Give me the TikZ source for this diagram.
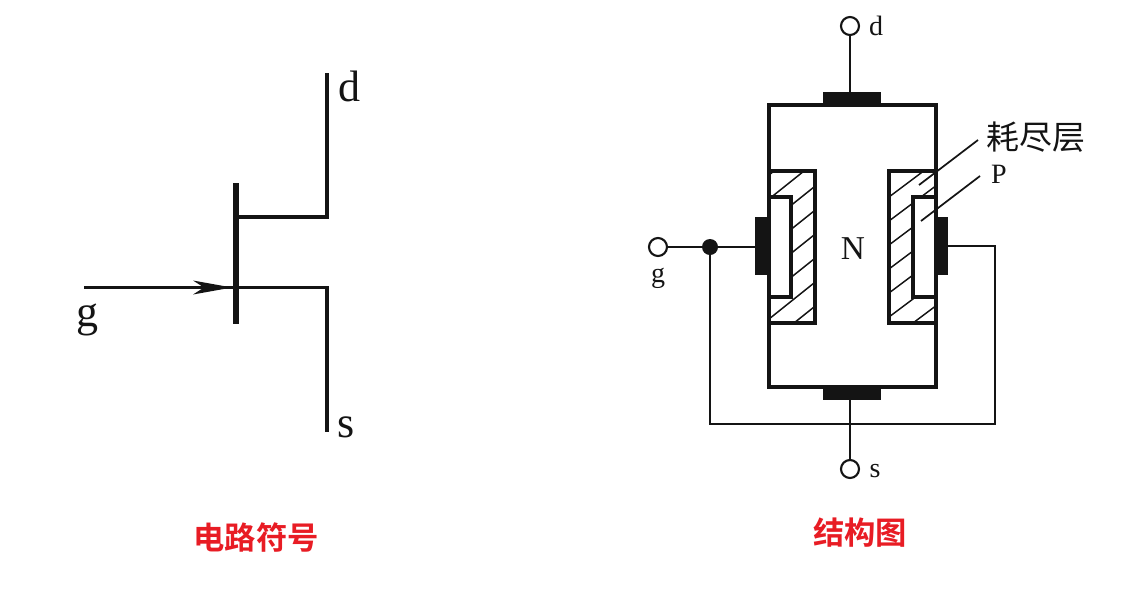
\documentclass[tikz,border=0pt]{standalone}
\usepackage{fontspec}
\setmainfont{Liberation Serif}
\newfontfamily\cjkserif{Noto Sans CJK SC}
\newfontfamily\cjkbold{Noto Sans CJK SC Bold}
\definecolor{titlered}{RGB}{232,28,36}
\definecolor{inkc}{RGB}{20,20,20}
\tikzset{
  x=0.75pt,y=-0.75pt,
  thickwire/.style={draw=inkc,line width=2.6pt,line join=miter},
  gatebar/.style={draw=inkc,line width=4pt},
  frame/.style={draw=inkc,line width=3pt},
  thinwire/.style={draw=inkc,line width=1.8pt},
  hatchline/.style={draw=inkc,line width=1.1pt},
  leader/.style={draw=inkc,line width=1.3pt},
  contact/.style={fill=inkc,draw=none},
  terminal/.style={circle,draw=inkc,line width=1.6pt,fill=white,minimum size=13.5pt,inner sep=0pt},
  junction/.style={circle,fill=inkc,draw=none,minimum size=12pt,inner sep=0pt},
  biglabel/.style={inner sep=0pt,text=inkc,font=\fontsize{33}{33}\selectfont},
  smalllabel/.style={inner sep=0pt,text=inkc,font=\fontsize{21}{21}\selectfont},
  title/.style={inner sep=0pt,text=titlered,font=\cjkbold\fontsize{23.5}{24}\selectfont},
}
\begin{document}
\begin{tikzpicture}
\useasboundingbox[fill=white] (0,0) rectangle (1125,594);
% ---- circuit symbol
\coordinate (gbT) at (236,183);
\coordinate (gbB) at (236,324);
\coordinate (dj) at (236,217);
\coordinate (sj) at (236,287.5);
\coordinate (dend) at (327,73);
\coordinate (send) at (327,432);
\coordinate (gend) at (84,287.5);
\draw[gatebar] (gbT) -- (gbB);
\draw[thickwire] (dj) -| (dend);
\draw[thickwire] (sj) -| (send);
\draw[thickwire] (gend) -- (sj);
\fill[inkc] (232,287.5) -- (193,280.5) -- (204,287.5) -- (193,294.5) -- cycle;
\node[biglabel] (dlab) at (349,86) {d};
\node[biglabel] (slab) at (346,427) {s};
\node[biglabel] (glab) at (87,320) {g};
\node[title] (t1) at (256,537) {电路符号};
% ---- hatching
\begin{scope}
\clip (769,171) rectangle (815,323);
\foreach \k in {-1,...,6}{
  \draw[hatchline] (760,{163+24*\k+43.2}) -- (820,{163+24*\k-4.8});
}
\end{scope}
\begin{scope}
\clip (889,171) rectangle (936,323);
\foreach \k in {0,...,6}{
  \draw[hatchline] (885,{197+24*\k+3}) -- (940,{197+24*\k-38.25});
}
\end{scope}
% ---- structure
\draw[frame] (769,105) rectangle (936,387);
\draw[frame,fill=none] (769,171) rectangle (815,323);
\draw[frame,fill=none] (889,171) rectangle (936,323);
\draw[frame,fill=white,line width=2.6pt] (769,197) rectangle (791,297);
\draw[frame,fill=white,line width=2.6pt] (913,197) rectangle (936,297);
\draw[frame] (769,105) -- (769,387);
\draw[frame] (936,105) -- (936,387);
\fill[contact] (823,92) rectangle (881,105);
\fill[contact] (823,387) rectangle (881,400);
\fill[contact] (755,217) rectangle (769,275);
\fill[contact] (936,217) rectangle (948,275);
\coordinate (topc) at (850,99);
\coordinate (botc) at (850,394);
\coordinate (lc) at (760,247);
\coordinate (rc) at (944,246);
\coordinate (c1) at (995,246);
\coordinate (c2) at (995,424);
\node[terminal] (td) at (850,26) {};
\node[terminal] (ts) at (850,469) {};
\node[terminal] (tg) at (658,247) {};
\node[junction] (jn) at (710,247) {};
\draw[thinwire] (td) -- (topc);
\draw[thinwire] (ts) -- (botc);
\draw[thinwire] (tg) -- (jn) -- (lc);
\draw[thinwire] (jn) |- (c2) -- (c1) -- (rc);
\coordinate (l1a) at (919,185);
\coordinate (l1b) at (978,140);
\coordinate (l2a) at (921,221);
\coordinate (l2b) at (980,176);
\draw[leader] (l1a) -- (l1b);
\draw[leader] (l2a) -- (l2b);
\node[smalllabel] (sd) at (876,26) {d};
\node[smalllabel] (ss) at (875,471) {s};
\node[smalllabel] (sg) at (658,278) {g};
\node[smalllabel,font=\fontsize{25}{25}\selectfont] (nn) at (853,249) {N};
\node[smalllabel] (pp) at (999,174) {P};
\node[smalllabel,font=\cjkserif\fontsize{24.7}{25}\selectfont] (hj) at (1036,137) {耗尽层};
\node[title] (t2) at (860,533) {结构图};
\end{tikzpicture}
\end{document}
